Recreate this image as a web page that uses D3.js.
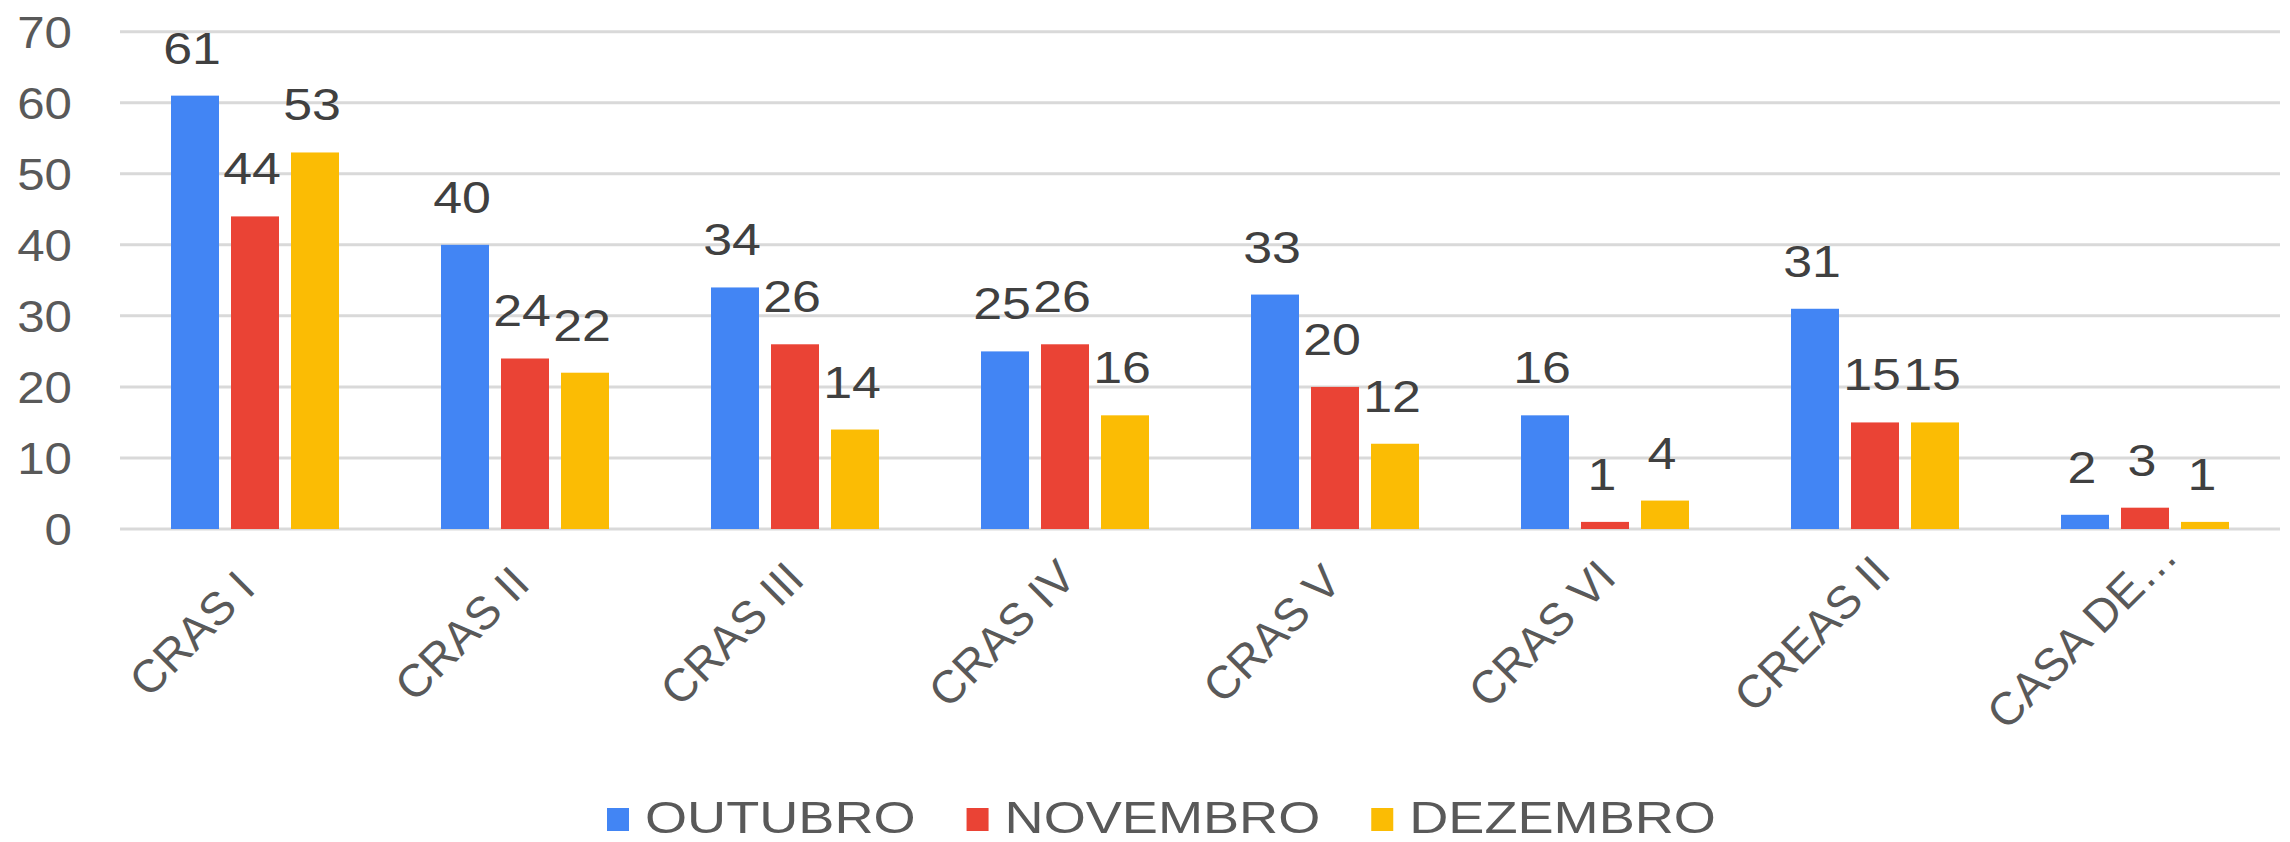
<!DOCTYPE html>
<html>
<head>
<meta charset="utf-8">
<title>Atendimentos por unidade</title>
<script src="https://d3js.org/d3.v7.min.js"></script>
<style>
  body { margin: 0; padding: 0; background: #fff; }
  text { font-family: "Liberation Sans", Arial, sans-serif; }
</style>
</head>
<body>
<div id="chart"></div>
<script>
// data
var categories = ["CRAS I", "CRAS II", "CRAS III", "CRAS IV", "CRAS V", "CRAS VI", "CREAS II", "CASA DE…"];
var seriesNames = ["OUTUBRO", "NOVEMBRO", "DEZEMBRO"];
var outubro  = [61, 40, 34, 25, 33, 16, 31, 2];
var novembro = [44, 24, 26, 26, 20, 1, 15, 3];
var dezembro = [53, 22, 14, 16, 12, 4, 15, 1];
var yTicks = [0, 10, 20, 30, 40, 50, 60, 70];
var colors = ["#4285F4", "#EA4335", "#FBBC04"];

var values = [outubro, novembro, dezembro];
var W = 2290, H = 842;
var plotLeft = 120, plotRight = 2280, plotTop = 31.7, plotBottom = 529;
var sx = 1.12; // text in the picture is a bit stretched sideways
var fs = 44;

var svg = d3.select("#chart").append("svg")
  .attr("width", W)
  .attr("height", H);

var y = d3.scaleLinear().domain([0, 70]).range([plotBottom, plotTop]);
var x0 = d3.scaleBand().domain(categories).range([plotLeft, plotRight]).padding(0);
var x1 = d3.scaleBand().domain(seriesNames).range([-84, 84]).paddingInner(0.2);

// gridlines
svg.append("g")
  .selectAll("line")
  .data(yTicks)
  .enter()
  .append("line")
    .attr("x1", plotLeft)
    .attr("x2", plotRight)
    .attr("y1", function(d) { return y(d); })
    .attr("y2", function(d) { return y(d); })
    .attr("stroke", "#d9d9d9")
    .attr("stroke-width", 3);

// y labels
svg.append("g")
  .selectAll("text")
  .data(yTicks)
  .enter()
  .append("text")
    .attr("transform", function(d) { return "translate(72," + (y(d) + fs * 0.36) + ") scale(" + sx + ",1)"; })
    .attr("text-anchor", "end")
    .attr("font-size", fs)
    .attr("fill", "#595959")
    .text(function(d) { return d; });

// rows for bars
var rows = [];
categories.forEach(function(c, i) {
  seriesNames.forEach(function(s, j) {
    rows.push({cat: c, series: s, value: values[j][i], color: colors[j]});
  });
});

svg.append("g")
  .selectAll("rect")
  .data(rows)
  .enter()
  .append("rect")
    .attr("x", function(d) { return x0(d.cat) + x0.bandwidth() / 2 + x1(d.series); })
    .attr("y", function(d) { return y(d.value); })
    .attr("width", x1.bandwidth())
    .attr("height", function(d) { return plotBottom - y(d.value); })
    .attr("fill", function(d) { return d.color; });

// value labels
svg.append("g")
  .selectAll("text")
  .data(rows)
  .enter()
  .append("text")
    .attr("transform", function(d) {
      var cx = x0(d.cat) + x0.bandwidth() / 2 + x1(d.series) + x1.bandwidth() / 2 - 3;
      return "translate(" + cx + "," + (y(d.value) - 32) + ") scale(1.18,1)";
    })
    .attr("text-anchor", "middle")
    .attr("font-size", fs)
    .attr("fill", "#404040")
    .text(function(d) { return d.value; });

// x labels, rotated
svg.append("g")
  .selectAll("text")
  .data(categories)
  .enter()
  .append("text")
    .attr("transform", function(d) {
      var cx = x0(d) + x0.bandwidth() / 2 - 52;
      return "translate(" + cx + ",645) rotate(-45)";
    })
    .attr("text-anchor", "middle")
    .attr("font-size", 46)
    .attr("fill", "#595959")
    .text(function(d) { return d; });

// legend
var legend = svg.append("g");
var lsx = 1.23;
var lx = 607;
seriesNames.forEach(function(s, j) {
  legend.append("rect")
    .attr("x", lx)
    .attr("y", 808)
    .attr("width", 22)
    .attr("height", 23)
    .attr("fill", colors[j]);
  var t = legend.append("text")
    .attr("transform", "translate(" + (lx + 38) + ",833) scale(" + lsx + ",1)")
    .attr("font-size", fs)
    .attr("fill", "#595959")
    .text(s);
  lx += 38 + t.node().getComputedTextLength() * lsx + 51;
});
</script>
</body>
</html>
